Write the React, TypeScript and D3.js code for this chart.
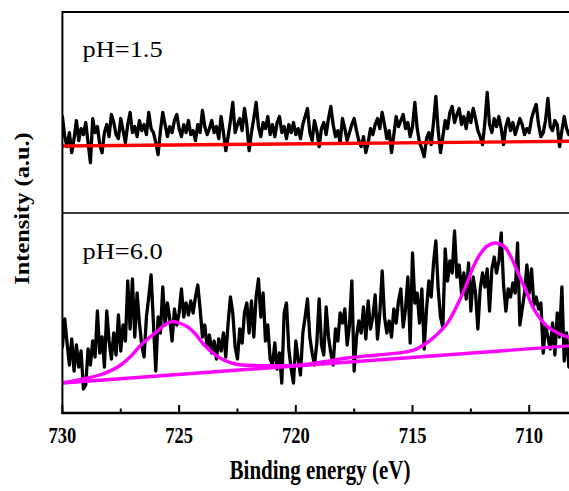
import * as d3 from "d3";

// energy grid of both scans: 730.0 eV down in 0.1 eV steps
const E_START = 730;
const E_STEP = 0.1;

// pH = 1.5 scan (arbitrary intensity units, top panel)
const scanLow = [
  48, 38, 33, 40, 30, 37, 46, 36, 42, 39,
  45, 35, 25, 47, 40, 43, 34, 30, 40, 44,
  38, 49, 45, 39, 37, 47, 41, 35, 44, 50,
  40, 43, 38, 46, 41, 44, 39, 50, 42, 40,
  35, 29, 41, 50, 44, 38, 43, 40, 46, 49,
  42, 38, 44, 40, 46, 39, 41, 36, 44, 40,
  51, 43, 39, 42, 46, 40, 43, 37, 48, 40,
  31, 38, 46, 55, 40, 44, 47, 41, 52, 44,
  31, 40, 47, 55, 43, 38, 45, 42, 48, 39,
  44, 38, 45, 48, 40, 43, 37, 44, 40, 45,
  39, 42, 37, 44, 48, 52, 40, 36, 46, 41,
  33, 42, 45, 39, 47, 53, 44, 38, 41, 35,
  47, 42, 36, 40, 44, 47, 41, 36, 33, 38,
  30, 35, 42, 39, 44, 47, 42, 50, 44, 37,
  41, 30, 39, 48, 43, 46, 49, 42, 45, 38,
  43, 55, 42, 35, 32, 28, 37, 40, 34, 45,
  58, 41, 30, 38, 46, 42, 50, 53, 45, 49,
  52, 44, 48, 42, 50, 45, 52, 47, 41, 38,
  34, 45, 60, 44, 40, 47, 43, 48, 42, 34,
  43, 47, 41, 45, 39, 43, 47, 44, 39, 42,
  40, 47, 51, 54, 44, 38, 40, 46, 57, 43,
  41, 46, 44, 33, 41, 48, 42, 39,
];

// pH = 6.0 scan (bottom panel)
const scanHigh = [
  33, 47, 35, 24, 37, 21, 34, 23, 31, 12,
  14, 32, 24, 36, 28, 51, 30, 38, 23, 51,
  36, 27, 40, 29, 49, 31, 44, 36, 66, 42,
  67, 38, 60, 45, 34, 28, 48, 58, 69, 45,
  21, 48, 40, 63, 44, 55, 47, 36, 52, 44,
  50, 62, 48, 55, 49, 56, 50, 58, 64, 52,
  38, 44, 33, 39, 30, 36, 27, 37, 31, 40,
  28, 45, 58, 50, 33, 27, 42, 35, 50, 55,
  40, 56, 38, 58, 67, 48, 60, 36, 44, 27,
  24, 35, 22, 30, 15, 50, 55, 32, 22, 15,
  36, 27, 19, 40, 48, 57, 38, 30, 24, 35,
  57, 34, 29, 53, 38, 30, 24, 42, 36, 50,
  45, 52, 34, 44, 66, 21, 38, 46, 40, 53,
  37, 56, 42, 48, 59, 37, 50, 71, 48, 40,
  46, 38, 52, 45, 56, 62, 43, 52, 68, 35,
  80, 55, 60, 45, 62, 32, 52, 66, 58, 75,
  86, 62, 48, 43, 82, 66, 76, 70, 91, 68,
  74, 60, 70, 57, 75, 51, 68, 60, 42, 62,
  70, 63, 72, 51, 72, 78, 70, 76, 90, 64,
  51, 62, 58, 65, 60, 85, 44, 52, 60, 74,
  60, 72, 54, 58, 52, 55, 30, 44, 38, 32,
  45, 29, 50, 38, 63, 26, 40, 23,
];

// linear backgrounds [eV, intensity]
const bgLow = [
  [730, 33.3],
  [708, 35.7],
];
const bgHigh = [
  [730, 15],
  [708, 33.8],
];

// fitted envelope of the pH = 6.0 scan [eV, intensity]
const fitHigh = [
  [730.0, 15.1], [729.2, 16.8], [728.4, 19.0], [727.9, 21.3], [727.5, 24.0],
  [727.1, 28.0], [726.7, 33.2], [726.3, 37.5], [725.95, 40.7], [725.6, 44.2],
  [725.3, 45.7], [725.0, 45.0], [724.65, 43.2], [724.3, 39.5], [724.0, 35.0],
  [723.6, 30.5], [723.25, 27.5], [722.8, 25.2], [722.4, 24.1], [721.2, 23.7],
  [719.8, 24.0], [718.8, 25.6], [717.8, 27.5], [716.5, 29.0], [715.2, 30.7],
  [714.8, 32.2], [714.4, 35.0], [714.0, 38.8], [713.5, 45.0], [713.0, 56.0],
  [712.7, 64.0], [712.4, 73.0], [712.1, 79.5], [711.8, 83.5], [711.45, 85.0],
  [711.1, 83.5], [710.95, 81.5], [710.7, 76.0], [710.4, 68.0], [710.1, 60.0],
  [709.85, 53.0], [709.55, 47.5], [709.25, 43.5], [708.7, 39.5], [708.3, 37.8],
  [708.0, 37.0],
];

const majorTicks = [730, 725, 720, 715, 710];
const minorTicks = [727.5, 722.5, 717.5, 712.5];

const W = 569;
const H = 491;
const left = 62.4;
const right = 575.9;
const top = 12;
const mid = 213;
const bottom = 413;

const font = "'Liberation Serif', 'Times New Roman', serif";

const App = () => {
  const x = d3.scaleLinear().domain([730, 708]).range([left, right]);
  const yLow = d3.scaleLinear().domain([0, 100]).range([mid, top]);
  const yHigh = d3.scaleLinear().domain([0, 100]).range([bottom, mid]);

  const energy = (i) => E_START - i * E_STEP;

  const lineLow = d3
    .line()
    .x((d, i) => x(energy(i)))
    .y((d) => yLow(d));
  const lineHigh = d3
    .line()
    .x((d, i) => x(energy(i)))
    .y((d) => yHigh(d));

  const bgLine = (y) =>
    d3
      .line()
      .x((d) => x(d[0]))
      .y((d) => y(d[1]));

  const fitLine = d3
    .line()
    .x((d) => x(d[0]))
    .y((d) => yHigh(d[1]))
    .curve(d3.curveCatmullRom.alpha(0.5));

  return (
    <svg
      width={W}
      height={H}
      style={{ position: "absolute", left: 0, top: 0, background: "#fff" }}
    >
      <defs>
        <clipPath id="clipTop">
          <rect x={left} y={top} width={right - left} height={mid - top} />
        </clipPath>
        <clipPath id="clipBottom">
          <rect x={left} y={mid} width={right - left} height={bottom - mid} />
        </clipPath>
      </defs>

      {/* spectra */}
      <g clipPath="url(#clipTop)" fill="none" strokeLinejoin="round" strokeLinecap="round">
        <path d={lineLow(scanLow)} stroke="#000" strokeWidth={3.3} />
        <path d={bgLine(yLow)(bgLow)} stroke="#ff0000" strokeWidth={3.4} />
      </g>
      <g clipPath="url(#clipBottom)" fill="none" strokeLinejoin="round" strokeLinecap="round">
        <path d={lineHigh(scanHigh)} stroke="#000" strokeWidth={3.3} />
        <path d={bgLine(yHigh)(bgHigh)} stroke="#ff00ff" strokeWidth={3.4} />
        <path d={fitLine(fitHigh)} stroke="#ff00ff" strokeWidth={3.4} />
      </g>

      {/* frame */}
      <line x1={left} x2={right} y1={top} y2={top} stroke="#000" strokeWidth={2} />
      <line x1={left} x2={right} y1={mid} y2={mid} stroke="#000" strokeWidth={1.5} />
      <line x1={left} x2={left} y1={top - 1} y2={bottom + 1} stroke="#000" strokeWidth={2} />
      <line x1={right} x2={right} y1={top} y2={bottom} stroke="#000" strokeWidth={2} />
      <line x1={left - 1} x2={right} y1={bottom} y2={bottom} stroke="#000" strokeWidth={2.5} />

      {/* ticks, pointing inward */}
      {majorTicks.map((t) => (
        <line key={"M" + t} x1={x(t)} x2={x(t)} y1={bottom} y2={bottom - 8} stroke="#000" strokeWidth={2} />
      ))}
      {minorTicks.map((t) => (
        <line key={"m" + t} x1={x(t)} x2={x(t)} y1={bottom} y2={bottom - 4.5} stroke="#000" strokeWidth={2} />
      ))}
      {majorTicks.map((t) => (
        <text
          key={"l" + t}
          transform={`translate(${x(t)},443) scale(1,1.2)`}
          textAnchor="middle"
          fontFamily={font}
          fontWeight="bold"
          fontSize={18.5}
        >
          {t}
        </text>
      ))}

      {/* titles */}
      <text
        transform="translate(320,479) scale(1,1.25)"
        textAnchor="middle"
        fontFamily={font}
        fontWeight="bold"
        fontSize={21}
      >
        Binding energy (eV)
      </text>
      <text
        transform="translate(29,208.5) scale(1,1.22) rotate(-90)"
        textAnchor="middle"
        fontFamily={font}
        fontWeight="bold"
        fontSize={20}
      >
        Intensity (a.u.)
      </text>

      <text transform="translate(82.5,57) scale(1.1,1)" fontFamily={font} fontSize={24}>
        pH=1.5
      </text>
      <text transform="translate(82.5,259) scale(1.1,1)" fontFamily={font} fontSize={24}>
        pH=6.0
      </text>
    </svg>
  );
};

export default App;
